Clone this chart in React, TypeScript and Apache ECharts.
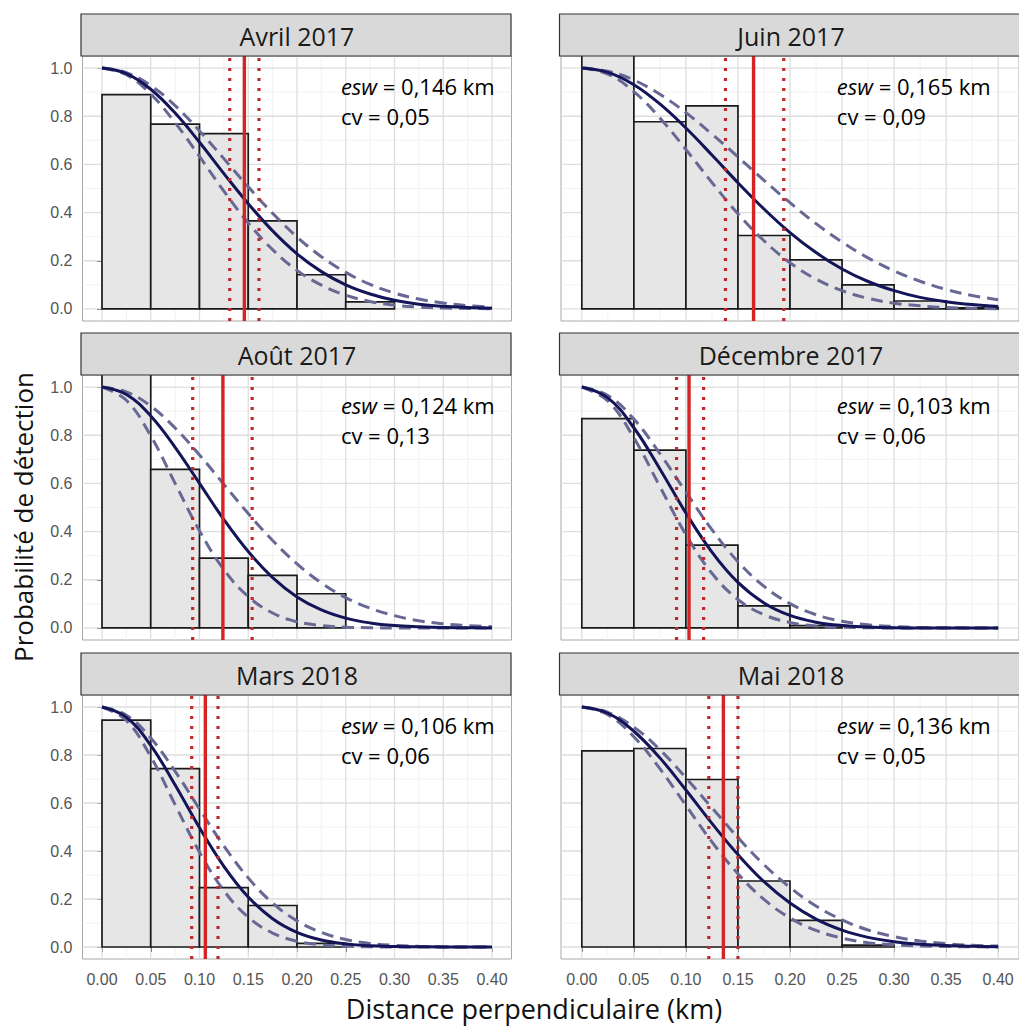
import React, { useEffect, useRef } from 'react';
import * as echarts from 'echarts';

// ---------- data ----------
const panelTitles = ['Avril 2017', 'Juin 2017', 'Août 2017', 'Décembre 2017', 'Mars 2018', 'Mai 2018'];
const eswLabels = ['0,146', '0,165', '0,124', '0,103', '0,106', '0,136'];
const cvLabels = ['0,05', '0,09', '0,13', '0,06', '0,06', '0,05'];
const eswValues = [0.146, 0.165, 0.124, 0.103, 0.106, 0.136];
const ciLow = [0.131, 0.138, 0.093, 0.091, 0.092, 0.122];
const ciHigh = [0.161, 0.194, 0.154, 0.117, 0.119, 0.150];

const binWidth = 0.05;
const binStarts = [0, 0.05, 0.1, 0.15, 0.2, 0.25, 0.3, 0.35];
const barsAvril = [0.89, 0.767, 0.728, 0.366, 0.142, 0.029];
const barsJuin = [1.08, 0.777, 0.843, 0.305, 0.204, 0.1, 0.033, 0.005];
const barsAout = [1.1, 0.658, 0.29, 0.218, 0.142];
const barsDec = [0.869, 0.738, 0.344, 0.092, 0.01];
const barsMars = [0.945, 0.743, 0.247, 0.173, 0.015];
const barsMai = [0.817, 0.827, 0.698, 0.275, 0.111, 0.008];

// sample positions at which curves were read
const curveX = [0, 0.025, 0.05, 0.075, 0.1, 0.125, 0.15, 0.175, 0.2, 0.225, 0.25, 0.275, 0.3, 0.325, 0.35, 0.375, 0.4];

const fitAvril = [1, 0.977, 0.912, 0.813, 0.692, 0.562, 0.437, 0.324, 0.229, 0.155, 0.1, 0.062, 0.036, 0.02, 0.011, 0.006, 0.003];
const loAvril = [1, 0.972, 0.892, 0.773, 0.633, 0.489, 0.357, 0.246, 0.16, 0.099, 0.057, 0.031, 0.016, 0.008, 0.004, 0.002, 0.001];
const hiAvril = [1, 0.981, 0.927, 0.844, 0.739, 0.624, 0.507, 0.397, 0.299, 0.217, 0.152, 0.102, 0.066, 0.041, 0.025, 0.014, 0.008];

const fitJuin = [1, 0.982, 0.931, 0.851, 0.751, 0.639, 0.524, 0.415, 0.317, 0.234, 0.166, 0.114, 0.076, 0.048, 0.03, 0.018, 0.01];
const loJuin = [1, 0.975, 0.902, 0.793, 0.662, 0.525, 0.395, 0.283, 0.192, 0.124, 0.076, 0.044, 0.024, 0.013, 0.006, 0.003, 0.001];
const hiJuin = [1, 0.987, 0.95, 0.891, 0.815, 0.726, 0.631, 0.534, 0.441, 0.354, 0.278, 0.212, 0.158, 0.115, 0.081, 0.056, 0.038];

const fitAout = [1, 0.969, 0.88, 0.75, 0.6, 0.45, 0.317, 0.209, 0.129, 0.075, 0.041, 0.021, 0.01, 0.005, 0.002, 0.001, 0];
const loAout = [1, 0.945, 0.797, 0.6, 0.403, 0.242, 0.13, 0.062, 0.026, 0.01, 0.003, 0.001, 0, 0, 0, 0, 0];
const hiAout = [1, 0.98, 0.921, 0.83, 0.718, 0.596, 0.475, 0.363, 0.266, 0.187, 0.126, 0.082, 0.051, 0.03, 0.017, 0.01, 0.005];

const fitDec = [1, 0.955, 0.831, 0.66, 0.477, 0.315, 0.189, 0.104, 0.052, 0.024, 0.01, 0.004, 0.001, 0, 0, 0, 0];
const loDec = [1, 0.942, 0.789, 0.587, 0.387, 0.227, 0.118, 0.055, 0.023, 0.008, 0.003, 0.001, 0, 0, 0, 0, 0];
const hiDec = [1, 0.965, 0.867, 0.724, 0.564, 0.408, 0.275, 0.173, 0.101, 0.055, 0.028, 0.013, 0.006, 0.002, 0.001, 0, 0];

const fitMars = [1, 0.957, 0.84, 0.675, 0.497, 0.336, 0.208, 0.118, 0.061, 0.029, 0.013, 0.005, 0.002, 0.001, 0, 0, 0];
const loMars = [1, 0.944, 0.793, 0.593, 0.395, 0.235, 0.124, 0.058, 0.024, 0.009, 0.003, 0.001, 0, 0, 0, 0, 0];
const hiMars = [1, 0.966, 0.871, 0.732, 0.575, 0.421, 0.288, 0.183, 0.109, 0.061, 0.031, 0.015, 0.007, 0.003, 0.001, 0, 0];

const fitMai = [1, 0.974, 0.899, 0.788, 0.654, 0.515, 0.385, 0.272, 0.183, 0.116, 0.07, 0.04, 0.022, 0.011, 0.006, 0.003, 0.001];
const loMai = [1, 0.968, 0.876, 0.743, 0.59, 0.438, 0.305, 0.198, 0.121, 0.069, 0.037, 0.018, 0.009, 0.004, 0.002, 0.001, 0];
const hiMai = [1, 0.978, 0.916, 0.822, 0.705, 0.58, 0.456, 0.343, 0.248, 0.171, 0.113, 0.071, 0.043, 0.025, 0.014, 0.007, 0.004];

const barsByPanel = [barsAvril, barsJuin, barsAout, barsDec, barsMars, barsMai];
const fitByPanel = [fitAvril, fitJuin, fitAout, fitDec, fitMars, fitMai];
const loByPanel = [loAvril, loJuin, loAout, loDec, loMars, loMai];
const hiByPanel = [hiAvril, hiJuin, hiAout, hiDec, hiMars, hiMai];

const xMajor = [0, 0.05, 0.1, 0.15, 0.2, 0.25, 0.3, 0.35, 0.4];
const xMinor = [0.025, 0.075, 0.125, 0.175, 0.225, 0.275, 0.325, 0.375];
const yMajor = [0, 0.2, 0.4, 0.6, 0.8, 1.0];
const yMinor = [0.1, 0.3, 0.5, 0.7, 0.9];

const xAxisTitle = 'Distance perpendiculaire (km)';
const yAxisTitle = 'Probabilité de détection';

// ---------- layout / style ----------
const XMIN = -0.02, XMAX = 0.42, YMIN = -0.05, YMAX = 1.05;
const cols = [{ left: 82.5, width: 429 }, { left: 561, width: 460 }];
const rows = [{ top: 56, height: 265 }, { top: 375, height: 265 }, { top: 695, height: 264 }];
const STRIP_H = 42;
const FONT = '"Open Sans", "Noto Sans", sans-serif';
const TICK_FONT = '"Liberation Sans", Arial, sans-serif';

function buildOption() {
  const grid: any[] = [], xAxis: any[] = [], yAxis: any[] = [], series: any[] = [], graphic: any[] = [];

  panelTitles.forEach((title, i) => {
    const col = cols[i % 2];
    const row = rows[Math.floor(i / 2)];
    const isBottom = Math.floor(i / 2) === 2;
    const isLeft = i % 2 === 0;

    grid.push({
      left: col.left, top: row.top, width: col.width, height: row.height,
      show: true, backgroundColor: '#ffffff', borderColor: '#a8a8a8', borderWidth: 1,
    });
    xAxis.push({
      type: 'value', gridIndex: i, min: XMIN, max: XMAX,
      splitLine: { show: false }, axisLine: { show: false },
      axisTick: { show: isBottom, customValues: xMajor, length: 5, lineStyle: { color: '#444', width: 1 } },
      axisLabel: {
        show: isBottom, customValues: xMajor, interval: 0, margin: 12,
        formatter: (v: number) => v.toFixed(2),
        color: '#555', fontFamily: TICK_FONT, fontSize: 16,
      },
    });
    yAxis.push({
      type: 'value', gridIndex: i, min: YMIN, max: YMAX,
      splitLine: { show: false }, axisLine: { show: false },
      axisTick: { show: isLeft, customValues: yMajor, length: 5, lineStyle: { color: '#444', width: 1 } },
      axisLabel: {
        show: isLeft, customValues: yMajor, interval: 0, margin: 10,
        formatter: (v: number) => v.toFixed(1),
        color: '#555', fontFamily: TICK_FONT, fontSize: 16,
      },
    });

    // grid lines
    const gl: number[][] = [];
    xMinor.forEach((v) => gl.push([0, v, 0]));
    yMinor.forEach((v) => gl.push([1, v, 0]));
    xMajor.forEach((v) => gl.push([0, v, 1]));
    yMajor.forEach((v) => gl.push([1, v, 1]));
    series.push({
      type: 'custom', xAxisIndex: i, yAxisIndex: i, z: 1, silent: true,
      data: gl,
      renderItem: (params: any, api: any) => {
        const o = api.value(0), v = api.value(1), m = api.value(2);
        const a = o === 0 ? api.coord([v, YMIN]) : api.coord([XMIN, v]);
        const b = o === 0 ? api.coord([v, YMAX]) : api.coord([XMAX, v]);
        return {
          type: 'line',
          shape: { x1: a[0], y1: a[1], x2: b[0], y2: b[1] },
          style: { stroke: m ? '#dedede' : '#efefef', lineWidth: m ? 1.3 : 0.8 },
        };
      },
    });

    // histogram bars
    const bars = barsByPanel[i].map((h, k) => [binStarts[k], binStarts[k] + binWidth, h]);
    series.push({
      type: 'custom', xAxisIndex: i, yAxisIndex: i, z: 2, silent: true, clip: true,
      encode: { x: [0, 1], y: 2 },
      data: bars,
      renderItem: (params: any, api: any) => {
        const p0 = api.coord([api.value(0), 0]);
        const p1 = api.coord([api.value(1), api.value(2)]);
        return {
          type: 'rect',
          shape: { x: p0[0], y: p1[1], width: p1[0] - p0[0], height: p0[1] - p1[1] },
          style: { fill: '#e6e6e6', stroke: '#1a1a1a', lineWidth: 1.7 },
        };
      },
    });

    const mk = (arr: number[]) => curveX.map((x, k) => [x, arr[k]]);
    [loByPanel[i], hiByPanel[i]].forEach((arr) => {
      series.push({
        type: 'line', xAxisIndex: i, yAxisIndex: i, z: 3, silent: true,
        data: mk(arr), showSymbol: false, symbol: 'none', smooth: 0.4,
        lineStyle: { color: '#686894', width: 3, type: [12, 7] },
      });
    });
    series.push({
      type: 'line', xAxisIndex: i, yAxisIndex: i, z: 4, silent: true,
      data: mk(fitByPanel[i]), showSymbol: false, symbol: 'none', smooth: 0.4,
      lineStyle: { color: '#141458', width: 3 },
    });

    // esw and CI vertical lines
    series.push({
      type: 'custom', xAxisIndex: i, yAxisIndex: i, z: 5, silent: true,
      data: [[eswValues[i], 0], [ciLow[i], 1], [ciHigh[i], 1]],
      renderItem: (params: any, api: any) => {
        const v = api.value(0), dotted = api.value(1) === 1;
        const a = api.coord([v, YMIN]);
        const b = api.coord([v, YMAX]);
        return {
          type: 'line',
          shape: { x1: a[0], y1: a[1], x2: b[0], y2: b[1] },
          style: dotted
            ? { stroke: '#c0282c', lineWidth: 3.2, lineDash: [3, 7] }
            : { stroke: '#d42424', lineWidth: 3.4 },
        };
      },
    });

    // annotation
    series.push({
      type: 'custom', xAxisIndex: i, yAxisIndex: i, z: 6, silent: true,
      data: [[0.245, 0.925, 0.8]],
      renderItem: (params: any, api: any) => {
        const p1 = api.coord([api.value(0), api.value(1)]);
        const p2 = api.coord([api.value(0), api.value(2)]);
        return {
          type: 'group',
          children: [
            {
              type: 'text', x: p1[0], y: p1[1],
              style: {
                text: '{i|esw} = ' + eswLabels[i] + ' km',
                rich: { i: { fontStyle: 'italic', fontFamily: FONT, fontSize: 22, fill: '#000' } },
                fontFamily: FONT, fontSize: 22, fill: '#000',
                align: 'left', verticalAlign: 'middle', textAlign: 'left', textVerticalAlign: 'middle',
              },
            },
            {
              type: 'text', x: p2[0], y: p2[1],
              style: {
                text: 'cv = ' + cvLabels[i],
                fontFamily: FONT, fontSize: 22, fill: '#000',
                align: 'left', verticalAlign: 'middle', textAlign: 'left', textVerticalAlign: 'middle',
              },
            },
          ],
        };
      },
    });

    // strip
    graphic.push({
      type: 'rect', z: 10,
      shape: { x: col.left - 1.5, y: row.top - STRIP_H, width: col.width + 1, height: STRIP_H },
      style: { fill: '#d9d9d9', stroke: '#333333', lineWidth: 1.2 },
    });
    graphic.push({
      type: 'text', z: 11,
      x: col.left + col.width / 2, y: row.top - STRIP_H / 2 + 1,
      style: {
        text: title, fontFamily: FONT, fontSize: 25, fill: '#1a1a1a',
        align: 'center', verticalAlign: 'middle', textAlign: 'center', textVerticalAlign: 'middle',
      },
    });
  });

  graphic.push({
    type: 'text', x: 23, y: 517, rotation: Math.PI / 2,
    style: {
      text: yAxisTitle, fontFamily: FONT, fontSize: 26, fill: '#111',
      align: 'center', verticalAlign: 'middle', textAlign: 'center', textVerticalAlign: 'middle',
    },
  });
  graphic.push({
    type: 'text', x: 534, y: 1008,
    style: {
      text: xAxisTitle, fontFamily: FONT, fontSize: 27, fill: '#111',
      align: 'center', verticalAlign: 'middle', textAlign: 'center', textVerticalAlign: 'middle',
    },
  });

  return { animation: false, backgroundColor: '#ffffff', grid, xAxis, yAxis, series, graphic };
}

export default function App() {
  const ref = useRef<HTMLDivElement>(null);
  useEffect(() => {
    document.body.style.margin = '0';
    const chart = echarts.init(ref.current as HTMLDivElement, null, { renderer: 'svg' });
    chart.setOption(buildOption() as any);
    return () => chart.dispose();
  }, []);
  return <div ref={ref} style={{ width: 1019, height: 1029 }} />;
}
